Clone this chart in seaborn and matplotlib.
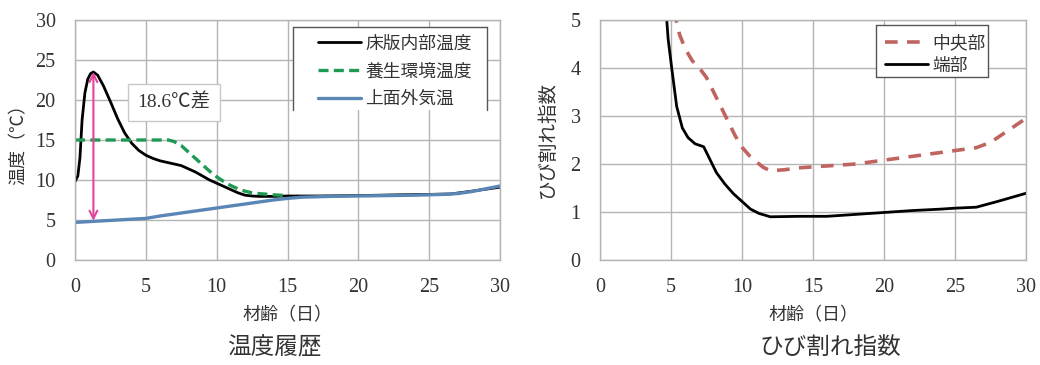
import matplotlib
matplotlib.use("Agg")
import matplotlib.pyplot as plt
from matplotlib.patches import Rectangle
from matplotlib.lines import Line2D
import seaborn as sns

# ---- temperature history (left) ----
inner_x = [0, 0.2, 0.35, 0.5, 0.7, 0.9, 1.1, 1.3, 1.6, 2.0, 2.5, 3.0, 3.5, 4.0, 4.5,
           5.0, 5.5, 6.0, 7.0, 7.5, 8.0, 8.5, 9.0, 9.5, 10.0, 10.5, 11.0, 11.5, 12.0,
           12.5, 13, 14, 15, 17, 20, 23, 25, 26.5, 28, 30]
inner_y = [9.8, 10.5, 12.8, 17.5, 20.9, 22.6, 23.3, 23.5, 23.1, 21.8, 19.8, 17.7, 15.9,
           14.6, 13.7, 13.1, 12.7, 12.4, 12.0, 11.8, 11.4, 11.0, 10.5, 10.0, 9.6, 9.2,
           8.8, 8.4, 8.1, 8.0, 7.95, 7.95, 8.0, 8.0, 8.05, 8.15, 8.2, 8.25, 8.6, 9.1]

curing_x = [0, 1, 2, 3, 4, 5, 6, 6.6, 7.0, 7.5, 8.0, 8.5, 9.0, 9.5, 10.0, 10.5, 11.0,
            11.5, 12.0, 12.5, 13, 14, 15]
curing_y = [15, 15, 15, 15, 15, 15, 15, 15, 14.8, 14.3, 13.5, 12.7, 11.9, 11.1, 10.4,
            9.8, 9.3, 8.9, 8.6, 8.4, 8.3, 8.15, 8.05]

air_x = [0, 2, 4, 5, 6, 8, 10, 12, 14, 15, 16, 18, 20, 22, 24, 26, 27, 28, 30]
air_y = [4.7, 4.9, 5.1, 5.2, 5.5, 6.0, 6.5, 7.0, 7.5, 7.7, 7.85, 7.95, 8.0, 8.05, 8.1,
         8.2, 8.3, 8.55, 9.25]

peak_day = 1.3
peak_temp = 23.5
gap_label = "18.6℃差"
gap_value = 18.6

# ---- cracking index (right) ----
center_x = [5.2, 5.6, 6.0, 6.5, 7.0, 7.5, 8.0, 8.5, 9.0, 9.5, 10.0, 10.5, 11.0, 11.5,
            12.0, 13, 14, 15, 16, 18, 20, 22, 24, 25, 26.5, 27.5, 28.5, 30]
center_y = [5.2, 4.7, 4.4, 4.15, 4.0, 3.8, 3.5, 3.2, 2.9, 2.6, 2.35, 2.18, 2.05, 1.93,
            1.86, 1.88, 1.92, 1.94, 1.96, 2.0, 2.08, 2.16, 2.24, 2.28, 2.34, 2.45, 2.65,
            2.95]

edge_x = [4.6, 4.8, 5.05, 5.4, 5.8, 6.2, 6.7, 7.3, 7.7, 8.2, 8.8, 9.4, 10.0, 10.6,
          11.2, 12.0, 14, 16, 18, 20, 22, 24, 25, 26.5, 28, 30]
edge_y = [5.4, 4.6, 4.0, 3.2, 2.75, 2.55, 2.42, 2.36, 2.12, 1.82, 1.58, 1.38, 1.22,
          1.06, 0.97, 0.9, 0.91, 0.91, 0.95, 0.99, 1.03, 1.06, 1.08, 1.1, 1.22, 1.39]

sns.set_theme(style="whitegrid")
plt.rcParams["font.family"] = ["Liberation Serif", "Noto Sans CJK JP", "DejaVu Sans"]
plt.rcParams["axes.unicode_minus"] = False

fig = plt.figure(figsize=(10.4, 3.65), dpi=100)
ax1 = fig.add_axes([75 / 1040, 105 / 365, 425 / 1040, 240 / 365])
ax2 = fig.add_axes([600 / 1040, 105 / 365, 426 / 1040, 240 / 365])

text_color = "#333333"
grid_color = "#b4b4b4"
frame_color = "#555555"


def style_axes(ax, ymax, ystep):
    ax.set_facecolor("white")
    ax.set_xlim(0, 30)
    ax.set_ylim(0, ymax)
    ax.set_xticks(range(0, 31, 5))
    ax.set_yticks([i * ystep for i in range(int(ymax / ystep) + 1)])
    ax.grid(True, color=grid_color, linewidth=1.0)
    for s in ax.spines.values():
        s.set_color(grid_color)
        s.set_linewidth(1.0)
    ax.tick_params(axis="x", length=0, labelsize=14.5, labelcolor=text_color, pad=13)
    ax.tick_params(axis="y", length=0, labelsize=14.5, labelcolor=text_color, pad=14)


def legend_box(ax, x0, x1, y0, y1, sides):
    ax.add_patch(Rectangle((x0, y0), x1 - x0, y1 - y0, transform=ax.transAxes,
                           facecolor="white", edgecolor="none", zorder=4))
    segs = {"top": ([x0, x1], [y1, y1]), "bottom": ([x0, x1], [y0, y0]),
            "left": ([x0, x0], [y0, y1]), "right": ([x1, x1], [y0, y1])}
    for s in sides:
        xs, ys = segs[s]
        ax.add_line(Line2D(xs, ys, transform=ax.transAxes, color=frame_color,
                           linewidth=1.0, zorder=5))


def frameless_legend(ax, anchor, spacing):
    leg = ax.legend(loc="upper left", bbox_to_anchor=anchor, borderaxespad=0,
                    borderpad=0, fontsize=12.8, frameon=False, handlelength=2.4,
                    handletextpad=0.25, labelspacing=spacing)
    leg.set_zorder(6)
    for t in leg.get_texts():
        t.set_color(text_color)
    return leg


# left panel
sns.lineplot(x=inner_x, y=inner_y, ax=ax1, color="black", linewidth=2.0,
             label="床版内部温度", sort=False, estimator=None)
sns.lineplot(x=curing_x, y=curing_y, ax=ax1, color="#1e9a55", linewidth=2.4,
             label="養生環境温度", sort=False, estimator=None)
ax1.lines[-1].set_dashes((3, 1.6))
sns.lineplot(x=air_x, y=air_y, ax=ax1, color="#5a86b6", linewidth=2.4,
             label="上面外気温", sort=False, estimator=None)

ax1.annotate("", xy=(peak_day, peak_temp), xytext=(peak_day, peak_temp - gap_value),
             arrowprops=dict(arrowstyle="<->", color="#e2449c", lw=1.5,
                             mutation_scale=14, shrinkA=0, shrinkB=0))
ax1.text(7.0, 19.7, gap_label, fontsize=14, color=text_color, ha="center", va="center",
         bbox=dict(boxstyle="square,pad=0.5", fc="white", ec="#c8c8c8", lw=1))

style_axes(ax1, 30, 5)
ax1.set_xlabel("材齢（日）", fontsize=13, color=text_color, labelpad=7)
ax1.set_ylabel("温度（℃）", fontsize=13, color=text_color, labelpad=6)
legend_box(ax1, 0.513, 0.969, 0.625, 0.971, ["top", "left", "right"])
frameless_legend(ax1, (0.572, 0.935), 0.6)

# right panel
sns.lineplot(x=center_x, y=center_y, ax=ax2, color="#c0645f", linewidth=2.6,
             label="中央部", sort=False, estimator=None)
ax2.lines[-1].set_dashes((3.5, 2.6))
sns.lineplot(x=edge_x, y=edge_y, ax=ax2, color="black", linewidth=2.0,
             label="端部", sort=False, estimator=None)

style_axes(ax2, 5, 1)
ax2.set_xlabel("材齢（日）", fontsize=13, color=text_color, labelpad=7)
ax2.set_ylabel("ひび割れ指数", fontsize=14, color=text_color, labelpad=10)
legend_box(ax2, 0.648, 0.911, 0.7625, 0.979, ["top", "bottom", "left", "right"])
frameless_legend(ax2, (0.669, 0.938), 0.32)

# panel captions
fig.text(274 / 1040, 1 - 348 / 365, "温度履歴", fontsize=17, color=text_color,
         ha="center", va="center")
fig.text(830 / 1040, 1 - 348 / 365, "ひび割れ指数", fontsize=17, color=text_color,
         ha="center", va="center")

fig.savefig("out.png", dpi=100, facecolor="white")
